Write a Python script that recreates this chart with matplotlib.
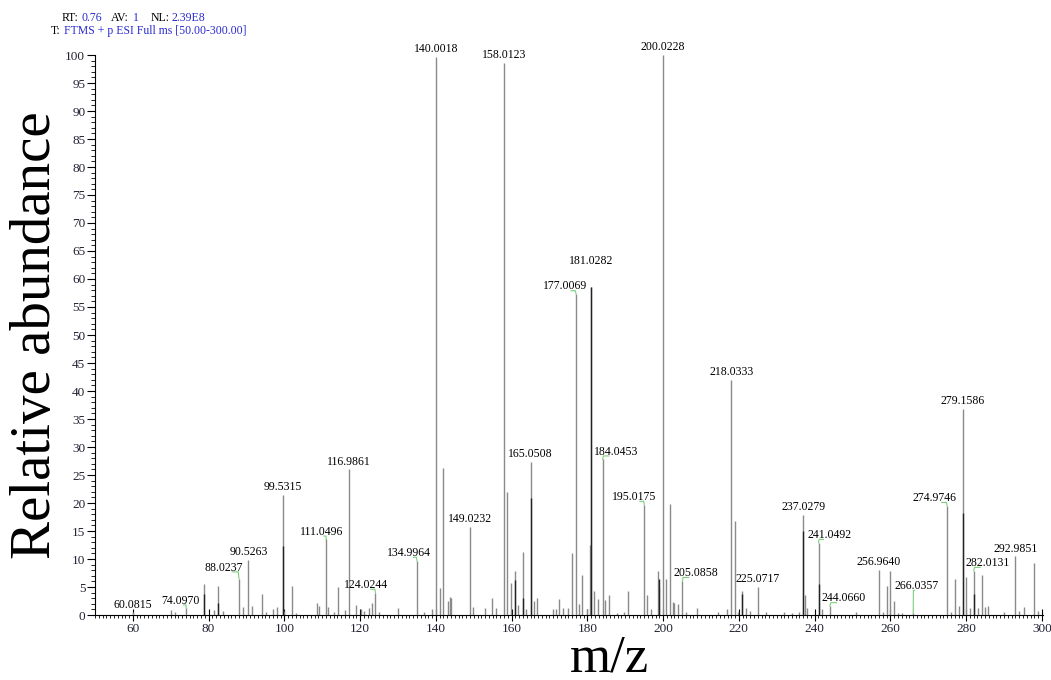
import matplotlib
matplotlib.use('Agg')
import matplotlib.pyplot as plt
from matplotlib.ticker import MultipleLocator

# labelled peaks (m/z, relative abundance)
label_mz = [60.0815, 74.0970, 88.0237, 90.5263, 99.5315, 111.0496, 116.9861,
            124.0244, 134.9964, 140.0018, 149.0232, 158.0123, 165.0508,
            177.0069, 181.0282, 184.0453, 195.0175, 200.0228, 205.0858,
            218.0333, 225.0717, 237.0279, 241.0492, 244.0660, 256.9640,
            266.0357, 274.9746, 279.1586, 282.0131, 292.9851]
label_int = [0.5, 1.2, 6.5, 9.8, 21.5, 13.5, 26.0, 4.0, 9.7, 99.7, 15.8, 98.6,
             27.3, 57.3, 58.6, 27.8, 19.7, 100.0, 6.1, 42.0, 5.0, 17.9, 12.9,
             1.6, 8.1, 0.3, 19.5, 36.8, 7.9, 10.5]

# other peaks
other_mz = [70.1, 71.0, 78.9, 81.4, 82.6, 83.7, 89.0, 91.5, 94.0, 95.2, 97.1,
            98.1, 100.0, 102.0, 103.1, 108.5, 109.1, 111.5, 113.0, 114.1,
            116.0, 118.9, 120.2, 120.9, 122.4, 123.1, 125.1, 129.9,
            136.9, 139.0, 141.0, 142.0, 143.1, 143.7, 144.0, 149.8, 153.0,
            154.7, 155.8, 158.8, 159.8, 160.8, 161.8, 162.9, 163.7, 165.8,
            166.8, 170.8, 171.8, 172.6, 173.6, 174.9, 176.0, 177.8, 178.7,
            180.0, 180.6, 181.8, 182.8, 184.7, 185.8, 187.7, 189.8, 190.8,
            195.7, 196.7, 198.7, 199.0, 200.7, 201.8, 202.6, 203.0, 203.9,
            206.0, 208.9, 214.6, 216.8, 218.9, 219.7, 220.9, 222.0, 223.0,
            227.2, 232.0, 234.0, 236.0, 237.4, 238.0, 242.0, 250.8, 258.0,
            259.0, 260.0, 261.0, 262.0, 263.0, 275.9, 277.0, 278.1, 280.1,
            281.1, 283.2, 284.1, 285.0, 285.9, 290.0, 294.0, 295.4, 298.0,
            298.9]
other_int = [0.9, 0.5, 5.5, 0.9, 5.2, 0.8, 1.4, 1.6, 3.7, 0.5, 1.1,
             1.5, 0.8, 5.2, 0.4, 2.1, 1.6, 1.4, 0.6, 5.0,
             0.9, 1.8, 1.1, 0.8, 1.3, 2.1, 0.5, 1.3,
             0.6, 1.0, 4.9, 26.2, 2.5, 3.2, 3.0, 1.5, 1.3,
             3.1, 1.3, 21.9, 5.8, 7.9, 1.8, 11.2, 1.0, 2.5,
             3.0, 1.0, 1.0, 2.9, 1.2, 1.2, 11.0, 2.0, 7.1,
             1.0, 12.5, 4.3, 2.9, 2.7, 3.5, 0.4, 0.5, 4.2,
             3.6, 1.0, 7.9, 5.0, 6.4, 19.8, 2.4, 2.2, 2.0,
             0.5, 1.2, 0.5, 1.0, 16.8, 0.6, 4.2, 1.2, 0.7,
             0.5, 0.5, 0.4, 0.5, 3.5, 1.2, 1.1, 0.5, 0.5,
             5.2, 7.9, 2.5, 0.4, 0.4, 0.5, 6.4, 1.6, 6.8,
             1.3, 1.3, 7.1, 1.5, 1.6, 0.5, 0.8, 1.5, 9.3,
             0.8]

# darker centroid overlays
dark_mz = [78.9, 82.6, 99.5315, 161.0, 162.9, 165.0508, 181.0282, 199.0,
           220.9, 237.0279, 241.0492, 279.1586, 282.0131]
dark_int = [3.8, 2.2, 12.3, 6.3, 3.0, 20.9, 58.6, 6.5, 3.8, 15.0, 5.5, 18.3, 3.8]

# label offsets in m/z units for labels that sit beside their peak
label_dx = {74.0970: -1.6, 88.0237: -4.0, 111.0496: -1.3, 124.0244: -2.6,
            134.9964: -2.1, 177.0069: -2.9, 184.0453: 3.6, 195.0175: -2.6,
            205.0858: 3.6, 241.0492: 2.9, 244.0660: 3.7, 266.0357: 0.8,
            274.9746: -3.2, 282.0131: 3.7}
label_dy = {266.0357: 3.5, 88.0237: 0.6, 181.0282: 3.2}

serif = ['Liberation Serif', 'DejaVu Serif']
plt.rcParams['font.family'] = serif

fig = plt.figure(figsize=(10.51, 6.8), dpi=100)
ax = fig.add_axes([95 / 1051, 65 / 680, 948 / 1051, 560 / 680])

ax.vlines(other_mz, 0, other_int, color='#8a8a8a', lw=1.0)
ax.vlines(label_mz, 0, label_int, color='#8a8a8a', lw=1.0)
ax.vlines(dark_mz, 0, dark_int, color='#222222', lw=1.0)

for mz, h in zip(label_mz, label_int):
    dx = label_dx.get(mz, 0.0)
    dy = label_dy.get(mz, 0.0)
    ty = h + 0.3 + dy
    ax.text(mz + dx, ty, f'{mz:.4f}', ha='center', va='bottom', fontsize=8.5,
            color='black')
    if dx != 0.0:
        # small green connector from label to peak top
        ax.plot([mz + dx * 0.45, mz + dx * 0.05, mz], [ty + 0.3, ty + 0.3, h],
                color='#7ccf7c', lw=0.8)

ax.set_xlim(50, 300.3)
ax.set_ylim(0, 100)
ax.spines['top'].set_visible(False)
ax.spines['right'].set_visible(False)
ax.spines['left'].set_linewidth(0.8)
ax.spines['bottom'].set_linewidth(0.8)

ax.yaxis.set_major_locator(MultipleLocator(5))
ax.yaxis.set_minor_locator(MultipleLocator(1))
ax.xaxis.set_minor_locator(MultipleLocator(1))
ax.set_xticks(range(60, 301, 20))
ax.tick_params(axis='y', which='major', length=6, width=0.8, labelsize=9.5, pad=1,
               labelcolor='#222233')
ax.tick_params(axis='y', which='minor', length=3, width=0.6)
ax.tick_params(axis='x', which='major', direction='inout', length=8, width=0.8,
               labelsize=9.5, pad=2, labelcolor='#222233')
ax.tick_params(axis='x', which='minor', length=2.5, width=0.6)

ax.set_xlabel('m/z', fontsize=38)
ax.xaxis.set_label_coords(609 / 1051, 1 - 671 / 680, transform=fig.transFigure)
ax.xaxis.label.set_va('baseline')
ax.set_ylabel('Relative abundance', fontsize=41, labelpad=2)

# scan header
blue = '#2a2ad0'
fs = 8.5
fig.text(62 / 1051, 1 - 18 / 680, 'RT:', fontsize=fs, color='black', va='center')
fig.text(82 / 1051, 1 - 18 / 680, '0.76', fontsize=fs, color=blue, va='center')
fig.text(111 / 1051, 1 - 18 / 680, 'AV:', fontsize=fs, color='black', va='center')
fig.text(133 / 1051, 1 - 18 / 680, '1', fontsize=fs, color=blue, va='center')
fig.text(151 / 1051, 1 - 18 / 680, 'NL:', fontsize=fs, color='black', va='center')
fig.text(171 / 1051, 1 - 18 / 680, '2.39E8', fontsize=fs, color=blue, va='center')
fig.text(51 / 1051, 1 - 31 / 680, 'T:', fontsize=fs, color='black', va='center')
fig.text(64 / 1051, 1 - 31 / 680, 'FTMS + p ESI Full ms [50.00-300.00]', fontsize=fs,
         color=blue, va='center')

fig.savefig('out.png', dpi=100)
